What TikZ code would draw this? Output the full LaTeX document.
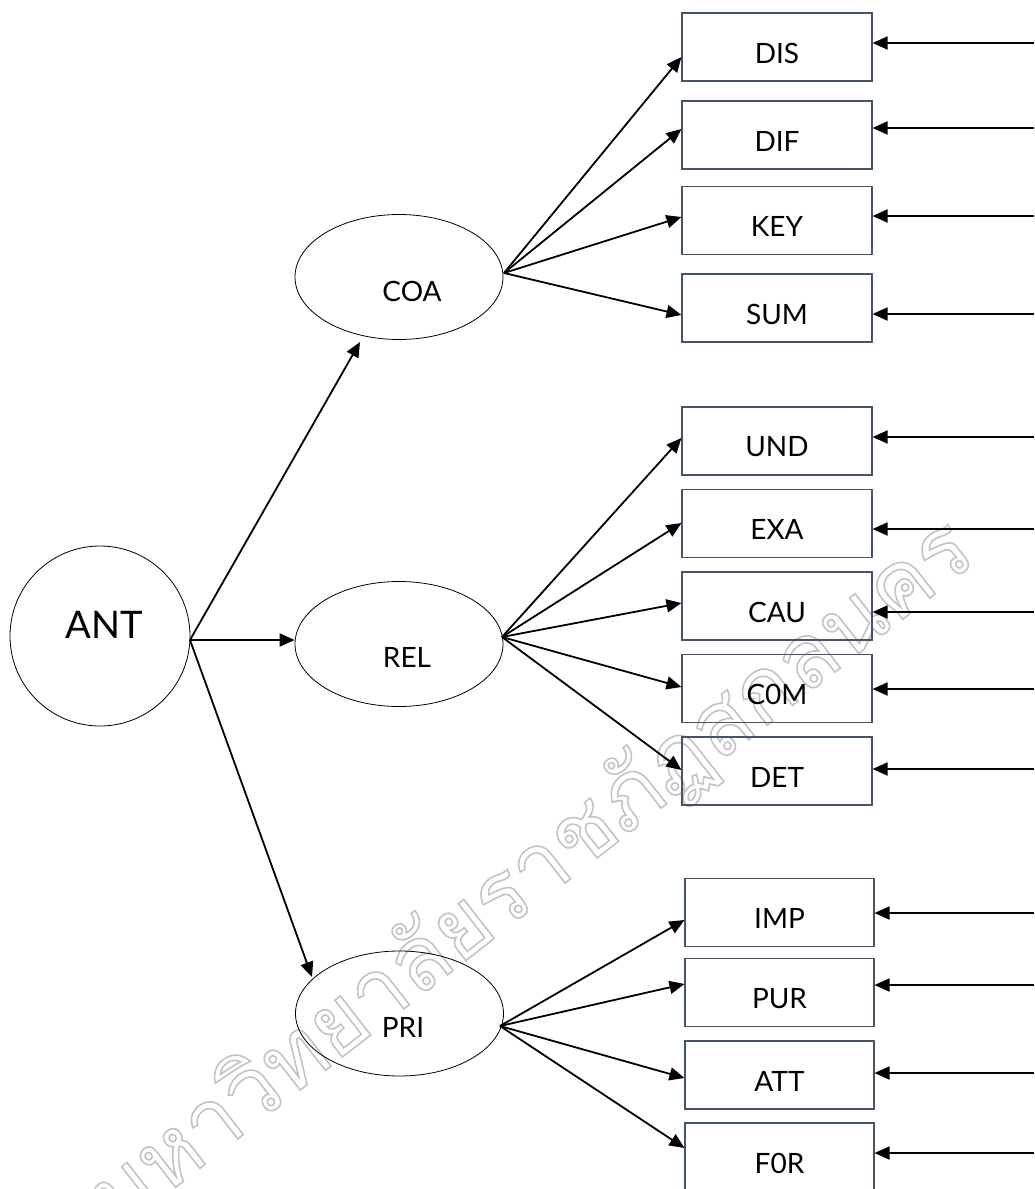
\documentclass[tikz,border=0pt]{standalone}
\usepackage{fontspec}
\setmainfont{Lato}
\newfontfamily\thaifont[Script=Thai]{Loma}
\usetikzlibrary{arrows.meta,shapes.geometric}
\definecolor{boxline}{RGB}{68,84,106}
\definecolor{wmgray}{RGB}{195,195,195}
\begin{document}
\begin{tikzpicture}[x=1pt,y=-1pt,
  arr/.style={line width=1.8pt,-{Triangle[length=15pt,width=13pt]}},
  txt/.style={font=\fontsize{28}{32}\selectfont,inner sep=0pt},
  obs/.style={draw=boxline,line width=1.1pt,minimum width=190pt,minimum height=68pt,inner sep=0pt,
              label={[txt,yshift=-6pt]center:#1}},
  lat/.style={draw,ellipse,line width=0.8pt,minimum width=208pt,minimum height=125pt,inner sep=0pt},
  wm/.style={text=wmgray,inner sep=0pt,rotate=38,font=\thaifont\fontsize{89}{94}\selectfont}]
\useasboundingbox (0,0) rectangle (1034,1189);

% watermark
\node[wm] (wmark) at (532,875) {\special{pdf:literal direct 1 Tr 1.6 w}มหาวิทยาลัยราชภัฏสกลนคร\special{pdf:literal direct 0 Tr}};

% latent variables
\node[draw,circle,line width=0.8pt,minimum size=180pt,inner sep=0pt] (ANT) at (100,636) {};
\node[txt,font=\fontsize{38}{42}\selectfont] (ANTt) at (104,625) {ANT};
\node[lat] (COA) at (399,277) {};
\node[txt] (COAt) at (412,291) {COA};
\node[lat] (REL) at (399,644) {};
\node[txt] (RELt) at (407,657) {REL};
\node[lat] (PRI) at (399.5,1013.5) {};
\node[txt] (PRIt) at (403,1027) {PRI};

% observed variables
\node[obs=DIS] (DIS) at (777,47) {};
\node[obs=DIF] (DIF) at (777,135) {};
\node[obs=KEY] (KEY) at (777,220.5) {};
\node[obs=SUM] (SUM) at (777,308) {};
\node[obs=UND] (UND) at (777,441) {};
\node[obs=EXA] (EXA) at (777,523.5) {};
\node[obs=CAU] (CAU) at (777,606) {};
\node[obs=C0M] (COM) at (777,688.5) {};
\node[obs=DET] (DET) at (777,771) {};
\node[obs=IMP,minimum width=189pt] (IMP) at (779.5,912.5) {};
\node[obs=PUR,minimum width=189pt] (PUR) at (779.5,992.5) {};
\node[obs=ATT,minimum width=189pt] (ATT) at (779.5,1075) {};
\node[obs=F0R,minimum width=189pt] (FOR) at (779.5,1157) {};

% origins of fans
\coordinate (ANTo) at (190,640);
\coordinate (COAo) at (504,273);
\coordinate (RELo) at (502,637);
\coordinate (PRIo) at (500,1026);
\coordinate (COAin) at (360,342);
\coordinate (PRIin) at (312,977);

% ANT paths
\draw[arr] (ANTo) -- (COAin);
\draw[arr] (ANTo) -- (ANTo -| REL.west);
\draw[arr] (ANTo) -- (PRIin);

% COA fan
\draw[arr] (COAo) -- (DIS.west |- 0,57);
\draw[arr] (COAo) -- (DIF.west |- 0,129);
\draw[arr] (COAo) -- (KEY.west |- 0,217);
\draw[arr] (COAo) -- (SUM.west |- 0,315);

% REL fan
\draw[arr] (RELo) -- (UND.west |- 0,438);
\draw[arr] (RELo) -- (EXA.west |- 0,523);
\draw[arr] (RELo) -- (CAU.west |- 0,603);
\draw[arr] (RELo) -- (COM.west |- 0,687);
\draw[arr] (RELo) -- (DET.west |- 0,770);

% PRI fan
\draw[arr] (PRIo) -- (IMP.west |- 0,920);
\draw[arr] (PRIo) -- (PUR.west |- 0,984);
\draw[arr] (PRIo) -- (ATT.west |- 0,1078);
\draw[arr] (PRIo) -- (FOR.west |- 0,1148);

% error arrows from the right
\coordinate (eDIS) at (1034,43);
\coordinate (eDIF) at (1034,128);
\coordinate (eKEY) at (1034,216);
\coordinate (eSUM) at (1034,314);
\coordinate (eUND) at (1034,437);
\coordinate (eEXA) at (1034,529);
\coordinate (eCAU) at (1034,612);
\coordinate (eCOM) at (1034,689);
\coordinate (eDET) at (1034,769);
\coordinate (eIMP) at (1034,913);
\coordinate (ePUR) at (1034,985);
\coordinate (eATT) at (1034,1073);
\coordinate (eFOR) at (1034,1153);
\draw[arr] (eDIS) -- (eDIS -| DIS.east);
\draw[arr] (eDIF) -- (eDIF -| DIF.east);
\draw[arr] (eKEY) -- (eKEY -| KEY.east);
\draw[arr] (eSUM) -- (eSUM -| SUM.east);
\draw[arr] (eUND) -- (eUND -| UND.east);
\draw[arr] (eEXA) -- (eEXA -| EXA.east);
\draw[arr] (eCAU) -- (eCAU -| CAU.east);
\draw[arr] (eCOM) -- (eCOM -| COM.east);
\draw[arr] (eDET) -- (eDET -| DET.east);
\draw[arr] (eIMP) -- (eIMP -| IMP.east);
\draw[arr] (ePUR) -- (ePUR -| PUR.east);
\draw[arr] (eATT) -- (eATT -| ATT.east);
\draw[arr] (eFOR) -- (eFOR -| FOR.east);
\end{tikzpicture}
\end{document}
